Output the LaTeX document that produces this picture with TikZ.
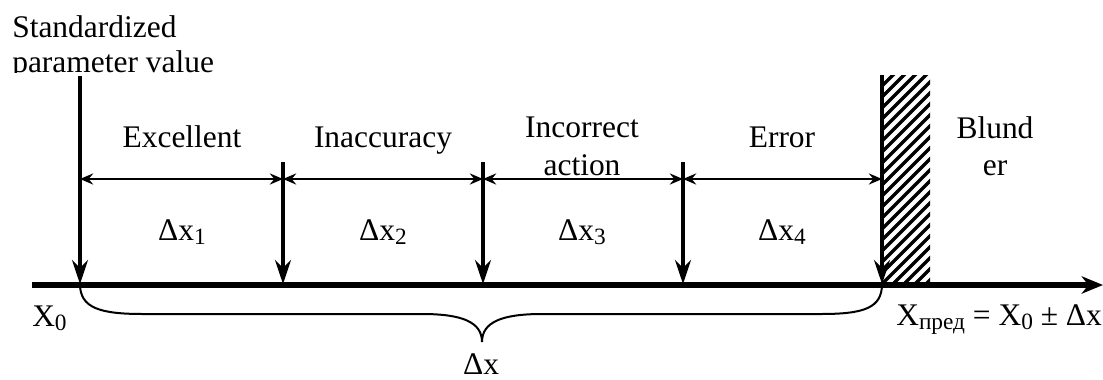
\documentclass[tikz,border=0pt]{standalone}
\usepackage{fontspec}
\setmainfont{Liberation Serif}
\usetikzlibrary{arrows.meta}
\newcommand{\sbs}[1]{\raisebox{-3.6pt}{\fontsize{17.5}{18}\selectfont #1}}
\begin{document}
\begin{tikzpicture}[x=0.75pt,y=-0.75pt,
  lbl/.style={font=\fontsize{23.6}{28}\selectfont, inner sep=0pt, anchor=base},
  axisline/.style={line width=4.5pt, -{Stealth[length=16pt,width=13pt,inset=5pt]}},
  marker/.style={line width=2.6pt, -{Stealth[length=18pt,width=12pt,inset=6pt]}},
  dimline/.style={line width=1.1pt, {Stealth[length=10pt,width=8.5pt,inset=3.5pt]}-{Stealth[length=10pt,width=8.5pt,inset=3.5pt]}},
  bracepath/.style={line width=1.5pt},
  hatchline/.style={line width=2.5pt}
]
\useasboundingbox (0,0) rectangle (1103,379);

% coordinates
\coordinate (a0) at (32,285);
\coordinate (a1) at (1103,285);
\coordinate (t0) at (80,76);
\coordinate (t1) at (283,162);
\coordinate (t2) at (483,162);
\coordinate (t3) at (683,162);
\coordinate (t4) at (882,75);
\coordinate (b0) at (80,284);
\coordinate (b1) at (283,284);
\coordinate (b2) at (483,284);
\coordinate (b3) at (683,284);
\coordinate (b4) at (882,284);
\coordinate (d0) at (80,179);
\coordinate (d1) at (283,179);
\coordinate (d2) at (483,179);
\coordinate (d3) at (683,179);
\coordinate (d4) at (882,179);
\coordinate (bt) at (482,342);

% hatched zone
\begin{scope}
\clip (882,75) rectangle (930,285);
\foreach \y in {75,86,...,350}
  \draw[hatchline] (876,\y+6) -- (936,\y-54);
\end{scope}

% axis
\draw[axisline] (a0) -- (a1);

% markers
\foreach \i in {0,...,4}
  \draw[marker] (t\i) -- (b\i);

% dimension lines
\draw[dimline] (d0) -- (d1);
\draw[dimline] (d1) -- (d2);
\draw[dimline] (d2) -- (d3);
\draw[dimline] (d3) -- (d4);

% brace
\draw[bracepath] (b0) .. controls (80,308) and (100,314) .. (143,314) -- (422,314)
  .. controls (462,314) and (482,322) .. (bt)
  .. controls (482,322) and (502,314) .. (542,314) -- (821,314)
  .. controls (864,314) and (882,308) .. (b4);

% labels
\begin{scope}
\clip (0,0) rectangle (400,72);
\node[lbl, anchor=base west] (std1) at (12,37) {Standardized};
\node[lbl, anchor=base west] (std2) at (12,72) {parameter value};
\end{scope}

\node[lbl] (l1) at (182,147) {Excellent};
\node[lbl] (l2) at (383,147) {Inaccuracy};
\node[lbl] (l3a) at (582,137) {Incorrect};
\node[lbl] (l3b) at (582,175) {action};
\node[lbl] (l4) at (782,147) {Error};
\node[lbl] (l5a) at (995,138) {Blund};
\node[lbl] (l5b) at (995,175) {er};

\node[lbl] (dx1) at (182,240) {Δx\sbs{1}};
\node[lbl] (dx2) at (383,240) {Δx\sbs{2}};
\node[lbl] (dx3) at (582,240) {Δx\sbs{3}};
\node[lbl] (dx4) at (782,240) {Δx\sbs{4}};

\node[lbl, anchor=base west] (x0) at (32,326) {X\sbs{0}};
\node[lbl, anchor=base west] (xp) at (896,325) {X\sbs{пред} = X\sbs{0} ± Δx};
\node[lbl] (dx) at (481,374) {Δx};
\end{tikzpicture}
\end{document}
